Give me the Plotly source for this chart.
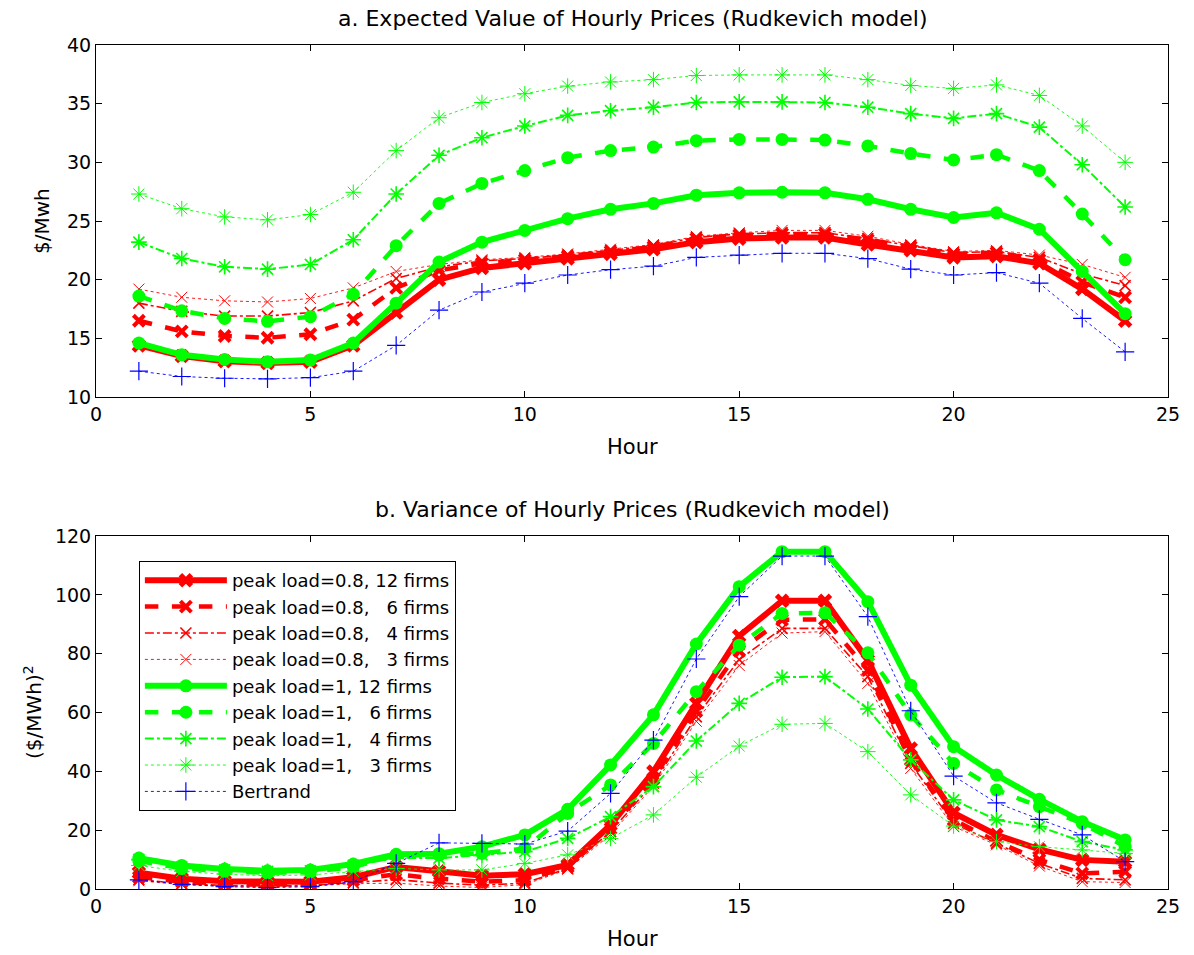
import plotly.graph_objects as go

hours = list(range(1, 25))

# Top panel: expected hourly prices ($/Mwh)
r12_top = [14.4, 13.5, 13.05, 12.9, 13.0, 14.4, 17.2, 20.0, 21.0, 21.4, 21.8, 22.2, 22.6, 23.2, 23.5, 23.6, 23.6, 23.0, 22.5, 21.9, 22.0, 21.4, 19.2, 16.5]
r6_top = [16.5, 15.6, 15.2, 15.05, 15.35, 16.6, 19.3, 20.8, 21.4, 21.7, 22.0, 22.4, 22.8, 23.5, 23.8, 23.9, 23.9, 23.4, 22.8, 22.2, 22.3, 21.7, 19.8, 18.5]
r4_top = [18.0, 17.3, 16.9, 16.9, 17.2, 18.2, 20.1, 21.1, 21.6, 21.8, 22.1, 22.5, 22.9, 23.6, 23.9, 24.0, 24.0, 23.5, 22.9, 22.3, 22.4, 21.9, 20.5, 19.5]
r3_top = [19.2, 18.5, 18.2, 18.1, 18.4, 19.3, 20.7, 21.3, 21.7, 21.9, 22.2, 22.6, 23.0, 23.7, 24.0, 24.2, 24.2, 23.7, 23.0, 22.4, 22.5, 22.1, 21.3, 20.2]
g12_top = [14.6, 13.6, 13.2, 13.0, 13.15, 14.6, 18.0, 21.5, 23.2, 24.2, 25.2, 26.0, 26.5, 27.2, 27.4, 27.45, 27.4, 26.85, 26.0, 25.3, 25.7, 24.3, 20.7, 17.1]
g6_top = [18.6, 17.35, 16.7, 16.45, 16.85, 18.75, 22.9, 26.5, 28.2, 29.3, 30.4, 31.0, 31.3, 31.85, 31.95, 31.95, 31.9, 31.4, 30.75, 30.2, 30.65, 29.3, 25.6, 21.7]
g4_top = [23.2, 21.8, 21.1, 20.9, 21.3, 23.4, 27.3, 30.6, 32.1, 33.1, 34.0, 34.4, 34.7, 35.1, 35.15, 35.15, 35.1, 34.7, 34.15, 33.75, 34.15, 33.0, 29.8, 26.2]
g3_top = [27.3, 26.05, 25.35, 25.1, 25.55, 27.45, 31.0, 33.8, 35.1, 35.85, 36.5, 36.85, 37.05, 37.4, 37.45, 37.45, 37.45, 37.05, 36.55, 36.3, 36.6, 35.7, 33.1, 30.0]
b_top = [12.2, 11.75, 11.6, 11.55, 11.65, 12.2, 14.4, 17.4, 18.95, 19.7, 20.4, 20.85, 21.15, 21.9, 22.1, 22.25, 22.25, 21.8, 20.9, 20.4, 20.6, 19.7, 16.7, 13.85]

# Bottom panel: variance of hourly prices (($/MWh)^2)
r12_bot = [5.5, 3.5, 2.6, 2.3, 2.5, 4.0, 7.5, 6.0, 4.5, 5.0, 8.2, 21.8, 39.9, 63.1, 86.0, 98.0, 98.0, 77.8, 47.8, 25.9, 18.4, 13.5, 9.9, 9.3]
r6_bot = [4.0, 2.5, 1.8, 1.5, 1.7, 3.0, 5.0, 3.5, 2.5, 3.0, 7.5, 20.5, 37.5, 60.5, 81.0, 91.5, 91.7, 74.4, 43.9, 23.5, 16.1, 9.9, 5.3, 5.9]
r4_bot = [3.2, 1.8, 1.2, 1.0, 1.2, 2.2, 3.2, 2.0, 1.3, 2.0, 7.0, 19.5, 36.0, 58.5, 78.0, 88.6, 88.6, 72.2, 42.7, 22.3, 15.5, 8.7, 3.6, 3.1]
r3_bot = [2.8, 1.5, 1.0, 0.8, 1.0, 1.8, 2.0, 1.0, 0.5, 1.5, 6.7, 18.5, 35.0, 57.0, 76.0, 87.0, 87.5, 69.9, 41.0, 21.2, 15.0, 7.8, 2.5, 2.2]
g12_bot = [10.5, 8.0, 6.8, 6.2, 6.5, 8.5, 11.8, 12.0, 14.4, 18.4, 27.1, 42.2, 59.2, 83.3, 102.8, 114.7, 114.7, 97.7, 69.3, 48.4, 38.75, 30.5, 22.9, 16.7]
g6_bot = [9.5, 7.0, 6.0, 5.5, 5.8, 7.5, 11.5, 11.5, 12.1, 13.8, 25.7, 35.4, 49.5, 67.1, 82.9, 93.7, 93.9, 80.3, 59.2, 42.7, 33.7, 28.0, 22.3, 14.4]
g4_bot = [10.0, 7.5, 6.5, 6.0, 6.2, 8.0, 10.5, 10.5, 11.6, 12.7, 17.2, 24.6, 34.8, 50.3, 63.1, 72.0, 72.2, 61.2, 43.9, 30.3, 23.5, 21.2, 16.1, 13.3]
g3_bot = [8.0, 6.0, 5.0, 4.5, 4.8, 6.0, 7.0, 6.5, 6.5, 8.7, 11.6, 17.2, 25.2, 38.0, 48.6, 56.0, 56.3, 46.7, 32.0, 21.4, 16.1, 14.4, 13.3, 12.1]
b_bot = [3.1, 1.6, 0.8, 0.45, 0.8, 2.5, 8.7, 15.7, 15.5, 15.3, 19.7, 32.5, 50.6, 78.2, 99.4, 113.2, 113.2, 92.6, 60.6, 38.4, 29.3, 23.7, 18.4, 9.3]

NB = "\u00a0"
names = [
    "peak load=0.8, 12 firms",
    "peak load=0.8," + NB * 3 + "6 firms",
    "peak load=0.8," + NB * 3 + "4 firms",
    "peak load=0.8," + NB * 3 + "3 firms",
    "peak load=1, 12 firms",
    "peak load=1," + NB * 3 + "6 firms",
    "peak load=1," + NB * 3 + "4 firms",
    "peak load=1," + NB * 3 + "3 firms",
    "Bertrand",
]
RED, GREEN, BLUE = "#ff0000", "#00ff00", "#0000ff"
# (color, dash, line width, marker symbol, marker size, marker line width)
styles = [
    (RED, "solid", 6, "x-thin-open", 11, 5),
    (RED, "dash", 4.5, "x-thin-open", 11, 4),
    (RED, "dashdot", 1.6, "x-thin-open", 11, 1.6),
    (RED, "dot", 0.9, "x-thin-open", 11, 1),
    (GREEN, "solid", 6, "circle", 13, 0),
    (GREEN, "dash", 4.5, "circle", 13, 0),
    (GREEN, "dashdot", 2, "asterisk-open", 13, 1.6),
    (GREEN, "dot", 0.9, "asterisk-open", 13, 1),
    (BLUE, "dot", 0.9, "cross-thin-open", 13, 1.2),
]
tops = [r12_top, r6_top, r4_top, r3_top, g12_top, g6_top, g4_top, g3_top, b_top]
bots = [r12_bot, r6_bot, r4_bot, r3_bot, g12_bot, g6_bot, g4_bot, g3_bot, b_bot]

fig = go.Figure()
for i, (nm, st) in enumerate(zip(names, styles)):
    col, dash, lw, sym, ms, mlw = st
    marker = dict(symbol=sym, size=ms, color=col, line=dict(color=col, width=mlw))
    fig.add_trace(go.Scatter(x=hours, y=tops[i], mode="lines+markers", name=nm,
                             line=dict(color=col, width=lw, dash=dash), marker=marker,
                             showlegend=False, xaxis="x", yaxis="y"))
for i, (nm, st) in enumerate(zip(names, styles)):
    col, dash, lw, sym, ms, mlw = st
    marker = dict(symbol=sym, size=ms, color=col, line=dict(color=col, width=mlw))
    fig.add_trace(go.Scatter(x=hours, y=bots[i], mode="lines+markers", name=nm,
                             line=dict(color=col, width=lw, dash=dash), marker=marker,
                             showlegend=True, xaxis="x2", yaxis="y2"))

FONT = "DejaVu Sans, Liberation Sans, Arial, sans-serif"
ax = dict(showline=True, linecolor="black", linewidth=1, mirror="ticks", ticks="inside",
          ticklen=6, tickcolor="black", showgrid=False, zeroline=False,
          tickfont=dict(family=FONT, size=19, color="black"))
fig.update_layout(
    width=1194, height=955,
    margin=dict(l=96, r=26, t=45, b=66),
    paper_bgcolor="white", plot_bgcolor="white",
    font=dict(family=FONT, size=19, color="black"),
    xaxis=dict(ax, range=[0, 25], tickvals=[0, 5, 10, 15, 20, 25], anchor="y", domain=[0, 1]),
    yaxis=dict(ax, range=[10, 40], tickvals=[10, 15, 20, 25, 30, 35, 40], anchor="x", domain=[0.5829, 1.0]),
    xaxis2=dict(ax, range=[0, 25], tickvals=[0, 5, 10, 15, 20, 25], anchor="y2", domain=[0, 1]),
    yaxis2=dict(ax, range=[0, 120], tickvals=[0, 20, 40, 60, 80, 100, 120], anchor="x2", domain=[0, 0.4182]),
    legend=dict(x=0.040, y=0.3886, xanchor="left", yanchor="top", bgcolor="white",
                bordercolor="black", borderwidth=1, itemwidth=82,
                font=dict(family=FONT, size=18, color="black"), tracegroupgap=0),
    showlegend=True,
)
ann = [
    dict(text="a. Expected Value of Hourly Prices (Rudkevich model)", y=18, size=22),
    dict(text="b. Variance of Hourly Prices (Rudkevich model)", y=509, size=22),
    dict(text="Hour", y=447, size=21),
    dict(text="Hour", y=939, size=21),
]
for a in ann:
    fig.add_annotation(text=a["text"], xref="paper", yref="paper", x=0.5,
                       y=(889 - a["y"]) / 844, showarrow=False, xanchor="center", yanchor="middle",
                       font=dict(family=FONT, size=a["size"], color="black"))
fig.add_annotation(text="$/Mwh", xref="paper", yref="paper", x=(42 - 96) / 1072, y=(889 - 221) / 844,
                   showarrow=False, textangle=-90, xanchor="center", yanchor="middle",
                   font=dict(family=FONT, size=20, color="black"))
fig.add_annotation(text="($/MWh)<sup>2</sup>", xref="paper", yref="paper", x=(33 - 96) / 1072, y=(889 - 712) / 844,
                   showarrow=False, textangle=-90, xanchor="center", yanchor="middle",
                   font=dict(family=FONT, size=20, color="black"))

fig.write_html("out.html")
